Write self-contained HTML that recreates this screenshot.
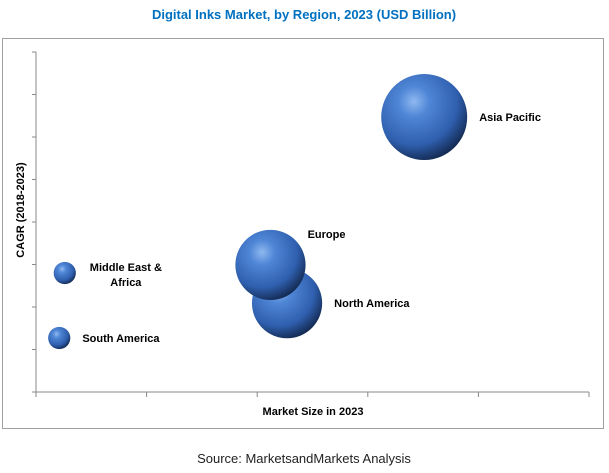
<!DOCTYPE html>
<html><head><meta charset="utf-8"><style>
body{margin:0;background:#fff;}
svg{display:block;font-family:"Liberation Sans",Arial,sans-serif;}
</style></head><body>
<svg id="chart" width="609" height="473">
<defs>
<radialGradient id="ball" cx="0.38" cy="0.32" r="0.72">
<stop offset="0" stop-color="#8fb8f0"/>
<stop offset="0.25" stop-color="#4f86d6"/>
<stop offset="0.7" stop-color="#2f5fae"/>
<stop offset="1" stop-color="#12284e"/>
</radialGradient>
</defs>
<text x="304" y="19" text-anchor="middle" font-size="13" font-weight="bold" fill="#0070c0">Digital Inks Market, by Region, 2023 (USD Billion)</text>
<rect x="2.5" y="38.5" width="601" height="390" fill="none" stroke="#a0a0a0"/>
<g id="axes"></g>
<g id="bubbles"></g>
<text transform="translate(24,210) rotate(-90)" text-anchor="middle" font-size="11" font-weight="bold" fill="#000">CAGR (2018-2023)</text>
<text x="313" y="415" text-anchor="middle" font-size="11" font-weight="bold" fill="#000">Market Size in 2023</text>
<text x="304" y="463" text-anchor="middle" font-size="13" fill="#222">Source: MarketsandMarkets Analysis</text>
</svg>
<script>
const regions=["North America","Europe","Asia Pacific","Middle East & Africa","South America"];
const marketSize=[2.27,2.12,3.51,0.26,0.21];
const cagr=[2.09,2.99,6.47,2.8,1.27];
const bubbleSize=[10,10,15,1,1];
const xTicks=[0,1,2,3,4,5];
const yTicks=[0,1,2,3,4,5,6,7,8];
const X0=36,X1=589,Y0=392,Y1=52;
function xs(v){return X0+(v-0)/(5-0)*(X1-X0);}
function ys(v){return Y0-(v-0)/(8-0)*(Y0-Y1);}
function rs(s){return 11.1*Math.sqrt(s);}
const NS="http://www.w3.org/2000/svg";
const ax=document.getElementById('axes');
function mk(t,a,p){const e=document.createElementNS(NS,t);for(const k in a)e.setAttribute(k,a[k]);p.appendChild(e);return e;}
let l=mk('line',{x1:X0,y1:Y0,x2:X0,y2:Y1,stroke:'#888'},ax);


l=mk('line',{x1:X0,y1:Y0,x2:X1,y2:Y0,stroke:'#888'},ax);


yTicks.forEach(v=>{const t=mk('line',{x1:X0-4,x2:X0,y1:ys(v),y2:ys(v),stroke:'#888'},ax);

});
xTicks.forEach(v=>{const t=mk('line',{x1:xs(v),x2:xs(v),y1:Y0,y2:Y0+5,stroke:'#888'},ax);

});
const bg=document.getElementById('bubbles');
const labelPos=[[1,0],[1,-1.1],[1,0],[1,0],[1,0]];
regions.forEach((r,i)=>{
 const cx=xs(marketSize[i]),cy=ys(cagr[i]),rad=rs(bubbleSize[i]);
 const c=mk('circle',{cx:cx,cy:cy,r:rad,fill:'url(#ball)'},bg);
 
 
 const lx=cx+rad+12;
 if(i===3){
  const t=mk('text',{x:lx+38,y:cy-2,'text-anchor':'middle','font-size':11,'font-weight':'bold',fill:'#000'},bg);
  t.textContent='Middle East &';
  
  
  const t2=mk('text',{x:lx+38,y:cy+13,'text-anchor':'middle','font-size':11,'font-weight':'bold',fill:'#000'},bg);
  t2.textContent='Africa';
  
  
 } else {
  const dy=i===1?-27:4;
  const t=mk('text',{x:i===1?cx+rad+2:lx,y:cy+dy,'font-size':11,'font-weight':'bold',fill:'#000'},bg);
  t.textContent=r;
  
  
 }
});
</script>
</body></html>
